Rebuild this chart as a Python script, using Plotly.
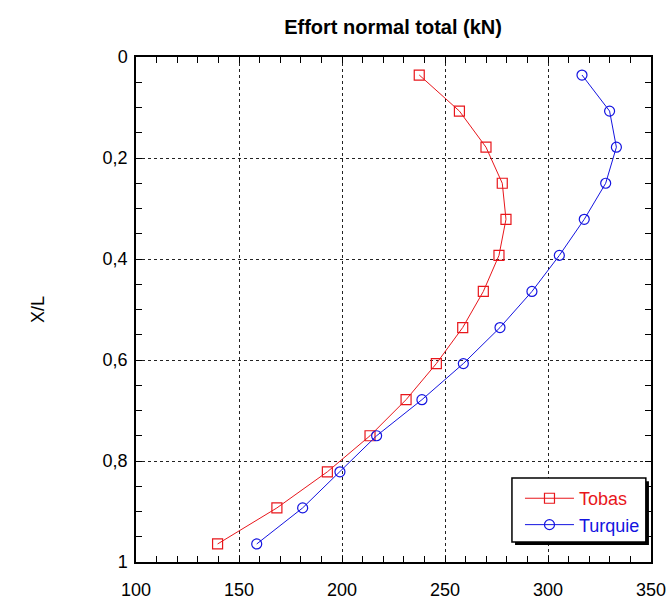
import plotly.graph_objects as go

# Relative position along the element (X/L), 14 sections
x_over_l = [0.0357, 0.1071, 0.1786, 0.25, 0.3214, 0.3929, 0.4643,
            0.5357, 0.6071, 0.6786, 0.75, 0.8214, 0.8929, 0.9643]

# Total normal force (kN)
tobas = [237.5, 257.0, 269.9, 277.8, 279.6, 276.2, 268.6,
         258.6, 245.8, 231.1, 213.6, 192.9, 168.4, 139.6]
turquie = [316.5, 329.9, 333.2, 328.0, 317.6, 305.5, 292.2,
           276.7, 258.9, 238.8, 216.8, 199.0, 180.9, 158.6]

x_ticks = [100, 150, 200, 250, 300, 350]
y_ticks = [0, 0.2, 0.4, 0.6, 0.8, 1]

RED = "#e8161b"
BLUE = "#1414e0"
FONT = "Liberation Sans, Arial, sans-serif"

fig = go.Figure()
fig.add_trace(go.Scatter(
    x=tobas, y=x_over_l, mode="lines+markers",
    name=f"<span style='color:{RED}'>Tobas</span>",
    line=dict(color=RED, width=1),
    marker=dict(symbol="square-open", size=10, color=RED, line=dict(width=1.2)),
))
fig.add_trace(go.Scatter(
    x=turquie, y=x_over_l, mode="lines+markers",
    name=f"<span style='color:{BLUE}'>Turquie</span>",
    line=dict(color=BLUE, width=1),
    marker=dict(symbol="circle-open", size=10, color=BLUE, line=dict(width=1.2)),
))

axis_common = dict(
    showline=True, linecolor="black", linewidth=1.5, mirror="ticks",
    ticks="inside", ticklen=6, tickcolor="black", tickwidth=1,
    showgrid=True, gridcolor="#222222", gridwidth=1, griddash="3px,3px",
    zeroline=False, automargin=False,
    tickfont=dict(family=FONT, size=18, color="black"),
)

fig.update_xaxes(
    range=[100, 350], tickvals=x_ticks, ticklabelstandoff=11,
    minor=dict(dtick=10, ticks="inside", ticklen=6, tickcolor="black", showgrid=False),
    **axis_common,
)
fig.update_yaxes(
    range=[1, 0], tickvals=y_ticks, ticklabelstandoff=3,
    minor=dict(dtick=0.05, ticks="inside", ticklen=6, tickcolor="black", showgrid=False),
    title=dict(text="X/L", font=dict(family=FONT, size=18, color="black"), standoff=53),
    **axis_common,
)

# Legend frame with a drop shadow (paper coordinates)
fig.add_shape(type="rect", xref="paper", yref="paper",
              x0=0.736, x1=0.996, y0=0.0337, y1=0.160,
              fillcolor="black", line=dict(width=0), layer="above")
fig.add_shape(type="rect", xref="paper", yref="paper",
              x0=0.730, x1=0.990, y0=0.0396, y1=0.1663,
              fillcolor="white", line=dict(color="black", width=1.5), layer="above")

fig.update_layout(
    width=669, height=604,
    margin=dict(l=136, r=18, t=57, b=42),
    paper_bgcolor="white", plot_bgcolor="white",
    separators=", ",
    title=dict(text="<b>Effort normal total (kN)</b>", x=0.5875, xanchor="center",
               y=0.955, yanchor="middle",
               font=dict(family=FONT, size=20, color="black")),
    legend=dict(x=0.7456, y=0.1623, xanchor="left", yanchor="top",
                bgcolor="rgba(0,0,0,0)", borderwidth=0,
                font=dict(family=FONT, size=18),
                tracegroupgap=0, itemwidth=49),
    showlegend=True,
)

fig.write_html("out.html")
